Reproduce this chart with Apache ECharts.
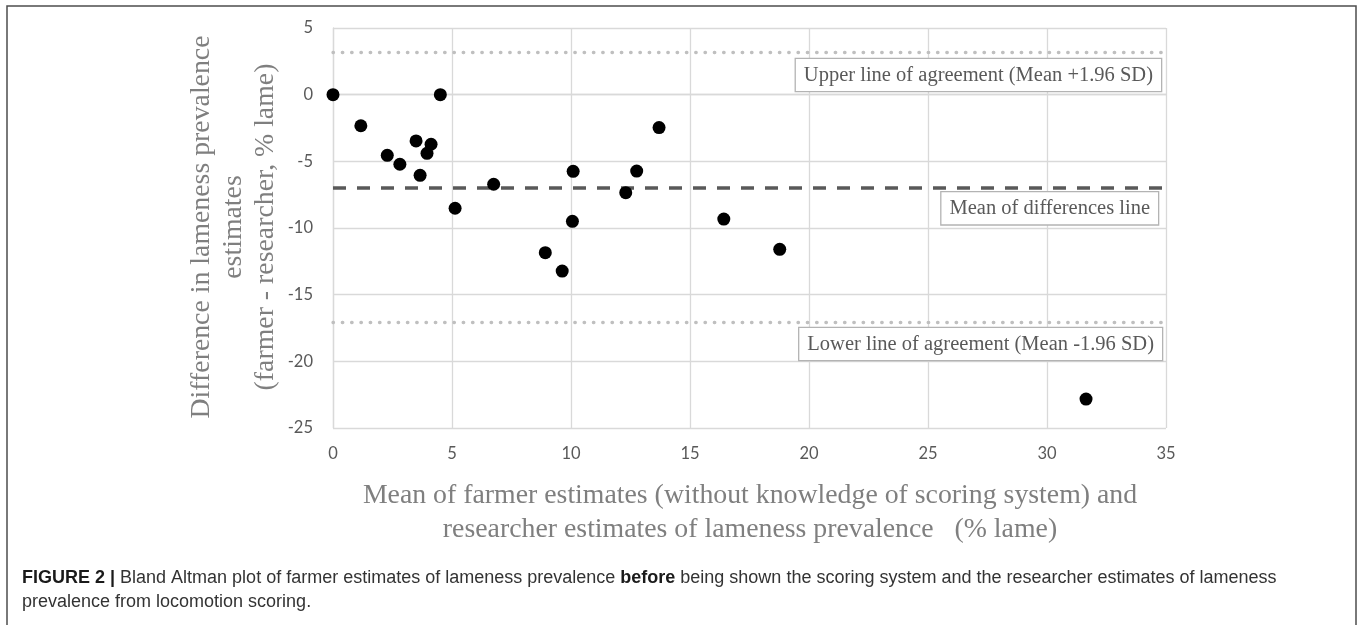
<!DOCTYPE html>
<html>
<head>
<meta charset="utf-8">
<title>Bland Altman plot – farmer vs researcher lameness estimates</title>
<script src="https://cdn.jsdelivr.net/npm/echarts@6/dist/echarts.min.js"></script>
<style>
  html, body { margin: 0; padding: 0; background: #ffffff; }
  #chart { width: 1358px; height: 625px; }
</style>
</head>
<body>
<div id="chart"></div>
<script>
// Mean of farmer and researcher estimates (% lame), one value per farm
const meanX = [0, 1.17, 2.28, 2.81, 3.49, 3.66, 3.95, 4.12, 4.51, 5.13, 6.75,
               8.92, 9.63, 10.06, 10.09, 12.3, 12.76, 13.7, 16.42, 18.77, 31.64];
// Difference farmer - researcher (% lame), same order as meanX
const diffY = [0, -2.33, -4.55, -5.22, -3.47, -6.05, -4.4, -3.72, 0, -8.52, -6.72,
               -11.85, -13.23, -9.5, -5.75, -7.35, -5.73, -2.47, -9.33, -11.6, -22.83];

// Bland Altman reference lines
const meanDiff = -6.95;
const upperLoA = 3.2;
const lowerLoA = -17.05;

// Reference line labels
const upperLabel = 'Upper line of agreement (Mean +1.96 SD)';
const meanLabel = 'Mean of differences line';
const lowerLabel = 'Lower line of agreement (Mean -1.96 SD)';

// Axis ticks
const xTicks = [0, 5, 10, 15, 20, 25, 30, 35];
const yTicks = [5, 0, -5, -10, -15, -20, -25];

// Titles and caption
const xTitle = 'Mean of farmer estimates (without knowledge of scoring system) and\nresearcher estimates of lameness prevalence   (% lame)';
const yTitle = 'Difference in lameness prevalence\nestimates\n(farmer - researcher, % lame)';
const captionLine1 = ['FIGURE 2 |', ' Bland Altman plot of farmer estimates of lameness prevalence ', 'before',
  ' being shown the scoring system and the researcher estimates of lameness'];
const captionLine2 = 'prevalence from locomotion scoring.';

const points = meanX.map((x, i) => [x, diffY[i]]);

const serif = '"Liberation Serif", "Times New Roman", serif';
const sans = '"Liberation Sans", Arial, sans-serif';
const tickFont = 'Lato, "Open Sans", sans-serif';

const boxLabel = (text, dist) => ({
  show: true,
  position: 'insideEndBottom',
  formatter: text,
  fontFamily: serif,
  fontSize: 20.5,
  color: '#595959',
  backgroundColor: '#ffffff',
  borderColor: '#b3b3b3',
  borderWidth: 1.3,
  padding: [6, 8, 5, 8],
  distance: dist
});

const chart = echarts.init(document.getElementById('chart'), null, { renderer: 'canvas' });

chart.setOption({
  animation: false,
  backgroundColor: '#ffffff',
  grid: { left: 333, right: 192, top: 28, height: 400, containLabel: false },
  xAxis: {
    type: 'value',
    min: xTicks[0],
    max: xTicks[xTicks.length - 1],
    interval: 5,
    axisLine: { show: true, lineStyle: { color: '#d9d9d9', width: 1.3 } },
    axisTick: { show: false },
    splitLine: { show: true, lineStyle: { color: '#d9d9d9', width: 1.3 } },
    axisLabel: { color: '#595959', fontFamily: tickFont, fontSize: 16.5, margin: 17 }
  },
  yAxis: {
    type: 'value',
    min: yTicks[yTicks.length - 1],
    max: yTicks[0],
    interval: 5,
    axisLine: { show: true, lineStyle: { color: '#d9d9d9', width: 1.3 } },
    axisTick: { show: false },
    splitLine: { show: true, lineStyle: { color: '#d9d9d9', width: 1.3 } },
    axisLabel: { color: '#595959', fontFamily: tickFont, fontSize: 16.5, margin: 20 }
  },
  series: [
    {
      name: 'Upper line of agreement',
      type: 'line',
      data: [],
      markLine: {
        silent: true,
        symbol: 'none',
        lineStyle: { color: '#bfbfbf', width: 3.3, type: [0.5, 8.8], cap: 'round' },
        label: boxLabel(upperLabel, [5, 7]),
        data: [{ yAxis: upperLoA }]
      }
    },
    {
      name: 'Lower line of agreement',
      type: 'line',
      data: [],
      markLine: {
        silent: true,
        symbol: 'none',
        lineStyle: { color: '#bfbfbf', width: 3.3, type: [0.5, 8.8], cap: 'round' },
        label: boxLabel(lowerLabel, [4, 6]),
        data: [{ yAxis: lowerLoA }]
      }
    },
    {
      name: 'Mean of differences',
      type: 'line',
      data: [],
      markLine: {
        silent: true,
        symbol: 'none',
        lineStyle: { color: '#595959', width: 3.6, type: [13, 11] },
        label: boxLabel(meanLabel, [8, 5]),
        data: [{ yAxis: meanDiff }]
      }
    },
    {
      name: 'Farms',
      type: 'scatter',
      data: points,
      symbol: 'circle',
      symbolSize: 13,
      itemStyle: { color: '#000000', opacity: 1 },
      z: 5
    }
  ],
  graphic: [
    {
      type: 'rect',
      silent: true,
      shape: { x: 7, y: 6, width: 1349, height: 640 },
      style: { fill: 'none', stroke: '#4d4d4d', lineWidth: 1.5 }
    },
    {
      type: 'text',
      silent: true,
      x: 234,
      y: 227,
      rotation: Math.PI / 2,
      style: {
        text: yTitle,
        font: '27.8px ' + serif,
        fill: '#7f7f7f',
        align: 'center',
        verticalAlign: 'middle',
        lineHeight: 32
      }
    },
    {
      type: 'text',
      silent: true,
      x: 750,
      y: 513,
      style: {
        text: xTitle,
        font: '27.8px ' + serif,
        fill: '#7f7f7f',
        align: 'center',
        verticalAlign: 'middle',
        lineHeight: 34
      }
    },
    {
      type: 'text',
      silent: true,
      x: 22,
      y: 566,
      style: {
        text: '{b|' + captionLine1[0] + '}' + captionLine1[1] + '{b|' + captionLine1[2] + '}' + captionLine1[3] +
              '\n' + captionLine2,
        fontFamily: sans,
        fontSize: 18,
        fill: '#333333',
        lineHeight: 24,
        rich: {
          b: { fontWeight: 'bold', fontFamily: sans, fontSize: 18, fill: '#1a1a1a', lineHeight: 24 }
        }
      }
    }
  ]
});
</script>
</body>
</html>
